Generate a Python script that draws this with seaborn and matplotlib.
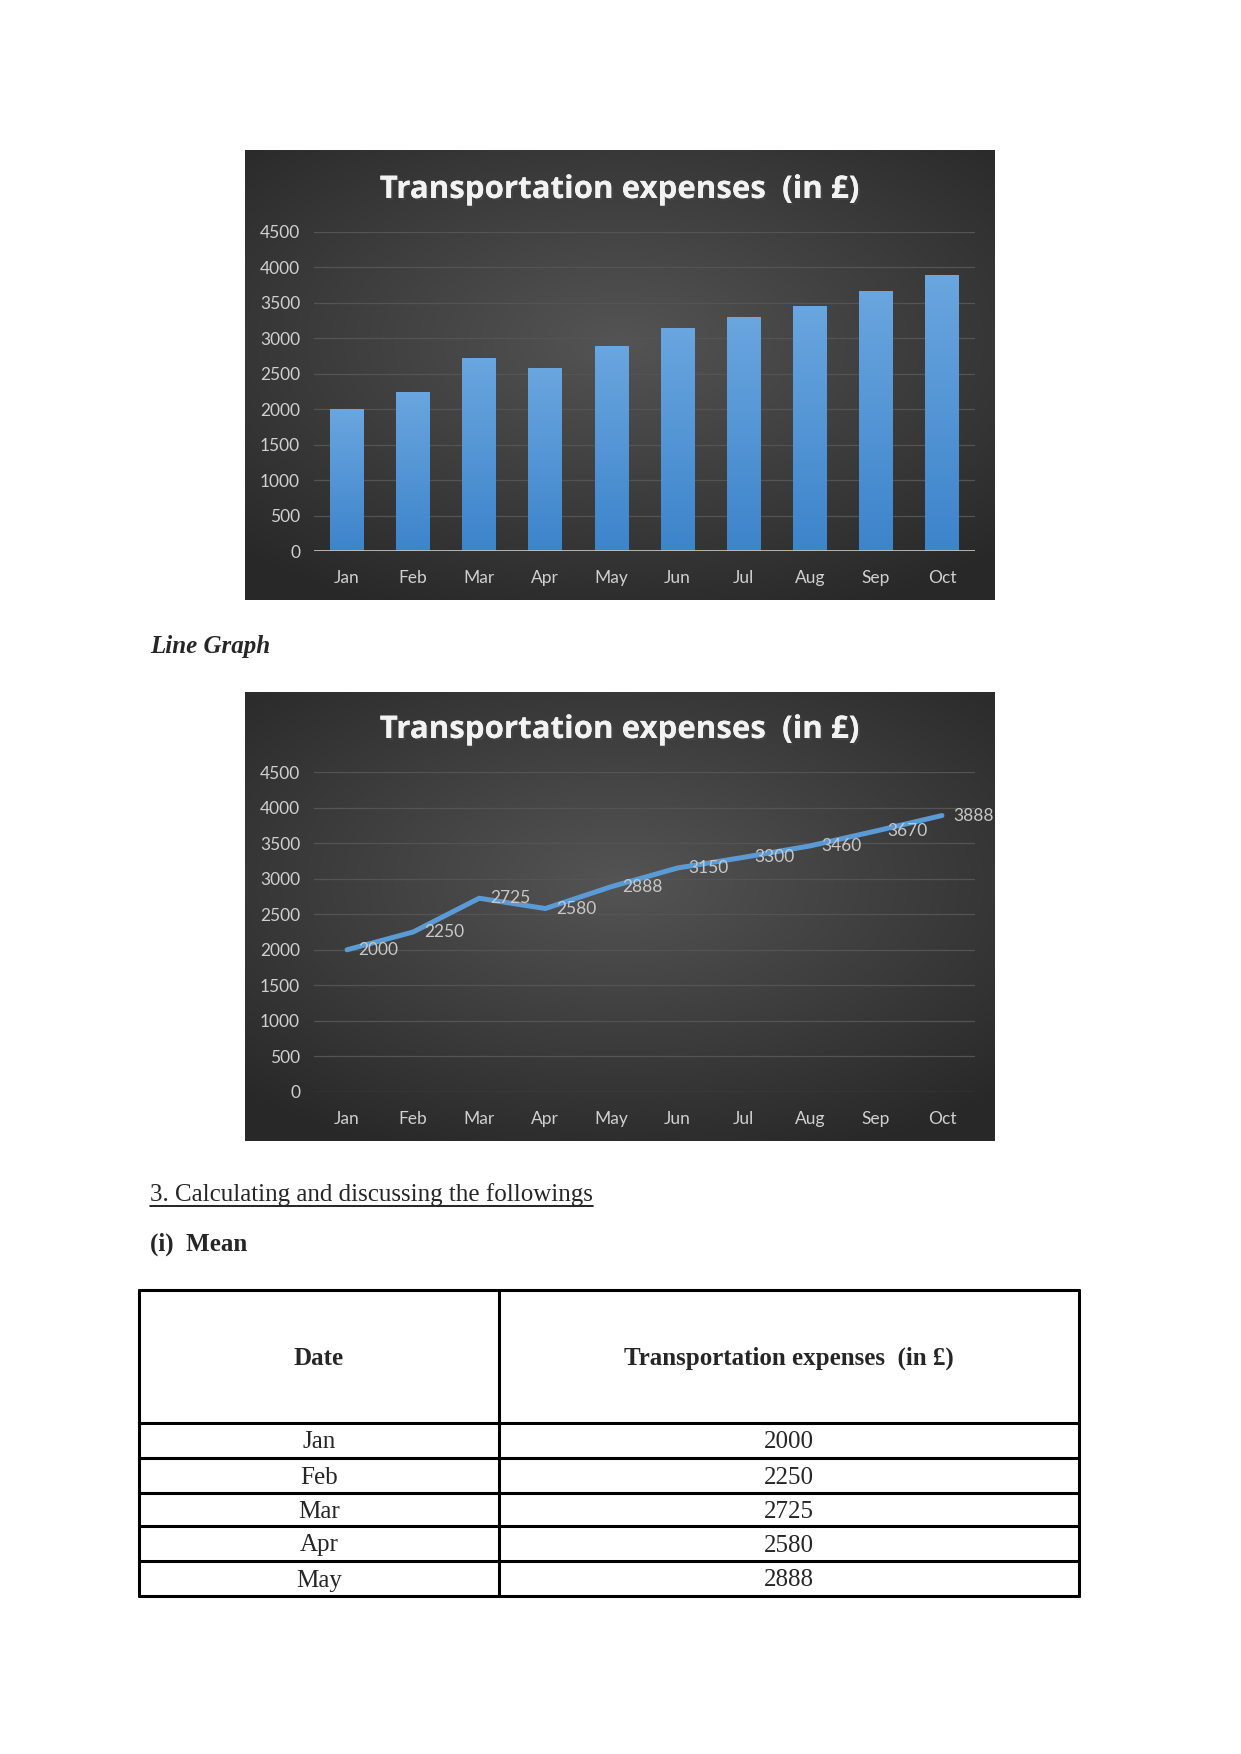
import numpy as np
import pandas as pd
import seaborn as sns
import matplotlib
matplotlib.use('Agg')
import matplotlib.pyplot as plt
import matplotlib.patheffects as pe

# --- data ---
months = ['Jan', 'Feb', 'Mar', 'Apr', 'May', 'Jun', 'Jul', 'Aug', 'Sep', 'Oct']
expenses = [2000, 2250, 2725, 2580, 2888, 3150, 3300, 3460, 3670, 3888]
y_ticks = [0, 500, 1000, 1500, 2000, 2500, 3000, 3500, 4000, 4500]
table_months = months[:5]
table_values = expenses[:5]

chart_title = 'Transportation expenses  (in £)'

W, H = 1241, 1754
df = pd.DataFrame({'month': months, 'expense': expenses})

sns.set_theme(style='dark')
plt.rcParams['font.family'] = ['Lato', 'DejaVu Sans']

fig = plt.figure(figsize=(W / 100, H / 100), dpi=100)
fig.patch.set_facecolor('white')


def px_axes(x0, y0, x1, y1, **kw):
    """Axes from pixel box (top-left origin)."""
    return fig.add_axes([x0 / W, 1 - y1 / H, (x1 - x0) / W, (y1 - y0) / H], **kw)


def chart_background(x0, y0, x1, y1):
    bg = px_axes(x0, y0, x1, y1)
    gx, gy = np.meshgrid(np.linspace(-1, 1, 300), np.linspace(-1, 1, 200))
    r = np.sqrt((gx * 0.9) ** 2 + ((gy + 0.15) * 1.0) ** 2)
    val = 0.33 - 0.17 * np.clip(r, 0, 1.3) / 1.3
    img = np.dstack([val, val, val])
    bg.imshow(img, extent=[0, 1, 0, 1], aspect='auto', interpolation='bilinear')
    bg.set_axis_off()
    return bg


def style_chart(ax, title_y):
    ax.set_facecolor('none')
    ax.set_ylim(0, 4500)
    ax.set_xlim(-0.5, len(months) - 0.5)
    ax.set_yticks(y_ticks)
    ax.set_yticklabels([str(t) for t in y_ticks])
    ax.grid(axis='y', color='#545454', linewidth=0.9)
    ax.grid(axis='x', visible=False)
    for s in ax.spines.values():
        s.set_visible(False)
    ax.tick_params(axis='both', length=0, labelsize=12.5, colors='#d0d0d0')
    ax.tick_params(axis='y', pad=10)
    ax.tick_params(axis='x', pad=14)
    ax.set_xlabel('')
    ax.set_ylabel('')
    fig.text(620 / W, 1 - title_y / H, chart_title, ha='center', va='center',
             fontsize=22.5, fontweight='bold', color='#f2f2f2',
             family=['Open Sans', 'DejaVu Sans'],
             path_effects=[pe.withSimplePatchShadow(offset=(1.5, -1.5), alpha=0.6),
                           pe.Normal()])


# --- bar chart ---
chart_background(245, 150, 995, 600)
ax1 = px_axes(314, 232, 975, 551)
sns.barplot(data=df, x='month', y='expense', color='#4f93d6', width=0.51,
            saturation=1, linewidth=0, ax=ax1)
grad = np.linspace(0, 1, 256).reshape(-1, 1)
cmap = matplotlib.colors.LinearSegmentedColormap.from_list('bar', ['#3d84cb', '#6aa6df'])
for bar in ax1.patches:
    x, y = bar.get_x(), bar.get_y()
    w, h = bar.get_width(), bar.get_height()
    im = ax1.imshow(grad, extent=[x, x + w, y, y + h], origin='lower', cmap=cmap,
                    aspect='auto', zorder=bar.get_zorder() + 0.1)
    im.set_clip_path(bar)
style_chart(ax1, 190)
ax1.set_xlim(-0.5, len(months) - 0.5)
ax1.set_ylim(0, 4500)
ax1.axhline(0, color='#bfbfbf', linewidth=2, zorder=5)

fig.text(150 / W, 1 - 646 / H, 'Line Graph', fontsize=18, fontweight='bold',
         fontstyle='italic', family=['Liberation Serif'], va='center', ha='left')

# --- line chart ---
chart_background(245, 692, 995, 1141)
ax2 = px_axes(314, 772, 975, 1092)
sns.lineplot(data=df, x='month', y='expense', color='#5b9bd5', linewidth=3.6,
             sort=False, ax=ax2)
style_chart(ax2, 730)
for i, v in enumerate(expenses):
    ax2.annotate(str(v), (i, v), xytext=(8, 0), textcoords='offset points',
                 ha='left', va='center', fontsize=12.5, color='#c8c8c8')

# --- heading text ---
fig.text(150 / W, 1 - 1195 / H, '3. Calculating and discussing the followings',
         fontsize=18, family=['Liberation Serif'], va='center', ha='left')
fig.add_artist(plt.Line2D([150 / W, 593 / W], [1 - 1206 / H, 1 - 1206 / H],
                          color='black', linewidth=1.2))
fig.text(150 / W, 1 - 1244 / H, '(i)  Mean', fontsize=18, fontweight='bold',
         family=['Liberation Serif'], va='center', ha='left')

# --- table ---
tx0, ty0, tx1, ty1 = 139, 1290, 1079, 1596
tab = px_axes(tx0, ty0, tx1, ty1)
tab.set_xlim(tx0, tx1)
tab.set_ylim(ty1, ty0)
tab.set_axis_off()
col_x = 499
row_lines = [1290, 1423, 1458, 1493, 1526, 1561, 1596]
for yl in row_lines:
    tab.plot([tx0, tx1], [yl, yl], color='black', linewidth=2.2, clip_on=False)
for xl in [tx0, col_x, tx1]:
    tab.plot([xl, xl], [ty0, ty1], color='black', linewidth=2.2, clip_on=False)
c1 = (tx0 + col_x) / 2
c2 = (col_x + tx1) / 2
tab.text(c1, (row_lines[0] + row_lines[1]) / 2 + 2, 'Date', fontsize=18,
         fontweight='bold', family=['Liberation Serif'], ha='center', va='center')
tab.text(c2, (row_lines[0] + row_lines[1]) / 2 + 2, 'Transportation expenses  (in £)',
         fontsize=18, fontweight='bold', family=['Liberation Serif'],
         ha='center', va='center')
for k, (m, v) in enumerate(zip(table_months, table_values)):
    ym = (row_lines[k + 1] + row_lines[k + 2]) / 2 + 2
    tab.text(c1, ym, m, fontsize=18, family=['Liberation Serif'],
             ha='center', va='center')
    tab.text(c2, ym, str(v), fontsize=18, family=['Liberation Serif'],
             ha='center', va='center')

fig.savefig('out.png', dpi=100, facecolor='white')
